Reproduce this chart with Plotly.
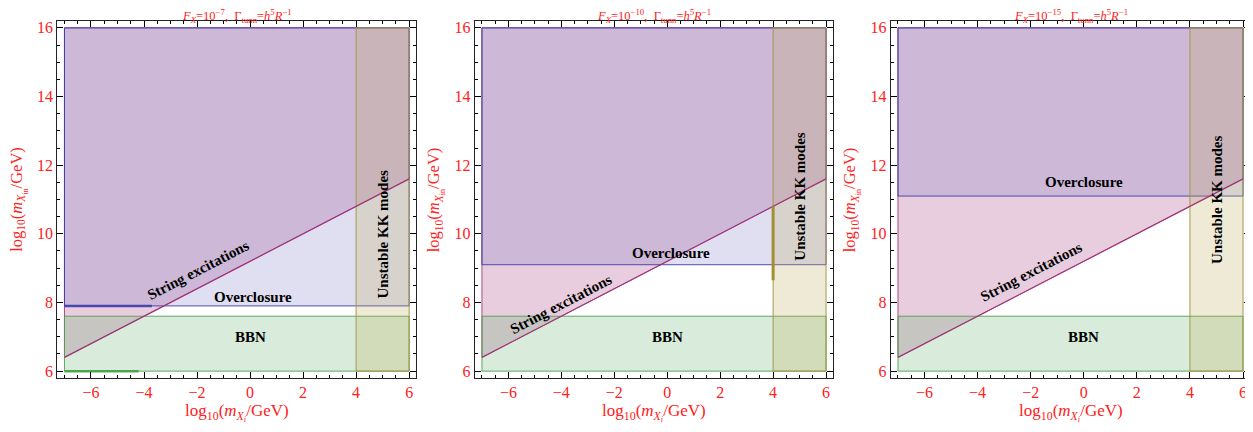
import plotly.graph_objects as go

# ---------------- data ----------------
panel_FX_exponents = ["−7", "−10", "−15"]
x_min, x_max = -7, 6
y_min, y_max = 6, 16
string_line_x = [-7, 6]
string_line_y = [6.4, 11.6]
overclosure_y = [7.9, 9.1, 11.1]
bbn_top = 7.6
kk_x_min = 4
x_tick_vals = [-6, -4, -2, 0, 2, 4, 6]
y_tick_vals = [6, 8, 10, 12, 14, 16]

# short heavy boundary segments visible in the panels
heavy_overclosure_x = [[-7, -3.7], None, None]
heavy_bbn_x = [[-7, -4.2], None, None]
heavy_kk_y = [None, [8.65, 10.8], None]

string_label_x = [-1.95, -4.0, -2.0]
string_label_y = [8.95, 7.95, 8.9]
overclosure_label_x = [0.1, 0.15, 0.0]
overclosure_label_y = [8.15, 9.45, 11.5]
bbn_label_x = [0, 0, 0]
bbn_label_y = [7.0, 7.0, 7.0]
kk_label_x = [5.0, 5.0, 5.0]
kk_label_y = [10.0, 11.1, 11.0]

# ---------------- style ----------------
OFF = 8  # page body margin
W, H = 1253 - OFF, 432 - OFF
RED = "#ff2020"
SERIF = "Liberation Serif"
frame_px = [(57.3, 416.3), (474.8, 833.2), (890.8, 1250.2)]
ydom = [(H - (378 - OFF)) / H, (H - (21 - OFF)) / H]

fig = go.Figure()

for i in range(3):
    xa = "x" if i == 0 else f"x{i+1}"
    ya = "y" if i == 0 else f"y{i+1}"
    oc = overclosure_y[i]

    # string excitations region (above the line)
    fig.add_trace(go.Scatter(
        x=[string_line_x[0], string_line_x[1], x_max, x_min, string_line_x[0]],
        y=[string_line_y[0], string_line_y[1], y_max, y_max, string_line_y[0]],
        fill="toself", fillcolor="rgba(180,90,150,0.3)",
        line=dict(color="rgba(160,60,120,0.9)", width=1),
        mode="lines", hoverinfo="skip", showlegend=False, xaxis=xa, yaxis=ya))
    # overclosure region
    fig.add_trace(go.Scatter(
        x=[x_min, x_max, x_max, x_min, x_min],
        y=[oc, oc, y_max, y_max, oc],
        fill="toself", fillcolor="rgba(110,110,190,0.22)",
        line=dict(color="rgba(60,60,170,0.9)", width=1),
        mode="lines", hoverinfo="skip", showlegend=False, xaxis=xa, yaxis=ya))
    # BBN
    fig.add_trace(go.Scatter(
        x=[x_min, x_max, x_max, x_min, x_min],
        y=[y_min, y_min, bbn_top, bbn_top, y_min],
        fill="toself", fillcolor="rgba(80,170,90,0.22)",
        line=dict(color="rgba(80,160,80,0.9)", width=1),
        mode="lines", hoverinfo="skip", showlegend=False, xaxis=xa, yaxis=ya))
    # Unstable KK modes
    fig.add_trace(go.Scatter(
        x=[kk_x_min, x_max, x_max, kk_x_min, kk_x_min],
        y=[y_min, y_min, y_max, y_max, y_min],
        fill="toself", fillcolor="rgba(190,170,90,0.25)",
        line=dict(color="rgba(160,150,70,0.95)", width=1),
        mode="lines", hoverinfo="skip", showlegend=False, xaxis=xa, yaxis=ya))
    # string line on top
    fig.add_trace(go.Scatter(
        x=string_line_x, y=string_line_y, mode="lines",
        line=dict(color="rgba(160,50,120,0.9)", width=1.2),
        hoverinfo="skip", showlegend=False, xaxis=xa, yaxis=ya))

    # heavy segments
    if heavy_overclosure_x[i]:
        fig.add_trace(go.Scatter(x=heavy_overclosure_x[i], y=[oc, oc], mode="lines",
                                 line=dict(color="rgba(60,60,170,0.85)", width=2.5),
                                 hoverinfo="skip", showlegend=False, xaxis=xa, yaxis=ya))
    if heavy_bbn_x[i]:
        fig.add_trace(go.Scatter(x=heavy_bbn_x[i], y=[y_min, y_min], mode="lines",
                                 line=dict(color="rgba(70,160,70,0.9)", width=2.5),
                                 hoverinfo="skip", showlegend=False, xaxis=xa, yaxis=ya))
    if heavy_kk_y[i]:
        fig.add_trace(go.Scatter(x=[kk_x_min, kk_x_min], y=heavy_kk_y[i], mode="lines",
                                 line=dict(color="rgba(160,140,40,0.95)", width=3),
                                 hoverinfo="skip", showlegend=False, xaxis=xa, yaxis=ya))

    lab = dict(xref=xa, yref=ya, showarrow=False,
               font=dict(family=SERIF, size=15, color="black"))
    fig.add_annotation(x=string_label_x[i], y=string_label_y[i],
                       text="<b>String excitations</b>", textangle=-27.4, **lab)
    fig.add_annotation(x=overclosure_label_x[i], y=overclosure_label_y[i],
                       text="<b>Overclosure</b>", **lab)
    fig.add_annotation(x=bbn_label_x[i], y=bbn_label_y[i],
                       text="<b>BBN</b>", **lab)
    fig.add_annotation(x=kk_label_x[i], y=kk_label_y[i],
                       text="<b>Unstable KK modes</b>", textangle=-90, **lab)

    # title
    fig.add_annotation(xref=f"{xa} domain", yref="paper", x=0.5, y=(H - (16 - OFF)) / H,
                       showarrow=False, yanchor="middle", borderpad=0,
                       text=f"<i>F</i><sub><i>X</i></sub>=10<sup>{panel_FX_exponents[i]}</sup>,  "
                            "Γ<sub>tunn</sub>=<i>h</i><sup>5</sup><i>R</i><sup>−1</sup>",
                       font=dict(family=SERIF, size=12.5, color=RED))
    # axis titles
    fig.add_annotation(xref=f"{xa} domain", yref="paper", x=0.5, y=(H - (412 - OFF)) / H,
                       showarrow=False, yanchor="middle",
                       text="log<sub>10</sub>(<i>m</i><sub><i>X</i><sub><i>i</i></sub></sub>/GeV)",
                       font=dict(family=SERIF, size=17, color=RED))
    fig.add_annotation(xref=f"{xa} domain", yref="paper", x=0, xshift=-39,
                       y=(ydom[0] + ydom[1]) / 2,
                       showarrow=False, textangle=-90, xanchor="center", yanchor="middle",
                       text="log<sub>10</sub>(<i>m</i><sub><i>X</i><sub>in</sub></sub>/GeV)",
                       font=dict(family=SERIF, size=16.5, color=RED))

    axcommon = dict(showgrid=False, zeroline=False, showline=True, linecolor="#222",
                    linewidth=1.2, mirror="allticks", ticks="inside", ticklen=6,
                    tickcolor="black", tickwidth=1.2, automargin=False,
                    tickfont=dict(family=SERIF, size=16, color=RED),
                    minor=dict(dtick=0.5, ticks="inside", ticklen=3, tickcolor="black",
                               tickwidth=1, showgrid=False))
    d0, d1 = frame_px[i]
    fig.update_layout(**{
        ("xaxis" if i == 0 else f"xaxis{i+1}"): dict(
            domain=[(d0 - OFF) / W, min((d1 - OFF) / W, 1.0)],
            range=[x_min - 0.27, x_max + 0.27],
            tickvals=x_tick_vals, anchor=ya, **axcommon),
        ("yaxis" if i == 0 else f"yaxis{i+1}"): dict(
            domain=ydom, range=[y_min - 0.2, y_max + 0.2],
            tickvals=y_tick_vals, anchor=xa, **axcommon),
    })

fig.update_layout(width=W, height=H, margin=dict(l=0, r=0, t=0, b=0),
                  paper_bgcolor="white", plot_bgcolor="white", showlegend=False)
fig.write_html("out.html")
